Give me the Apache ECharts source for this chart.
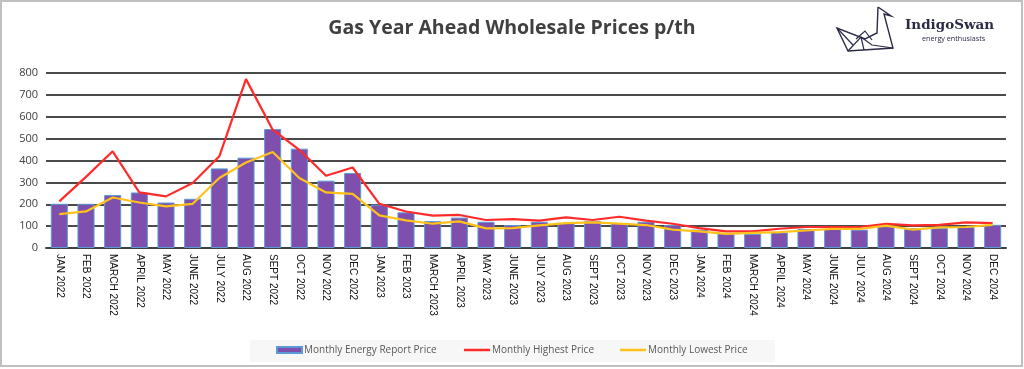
<!DOCTYPE html>
<html><head><meta charset="utf-8">
<script src="https://cdn.jsdelivr.net/npm/echarts@6/dist/echarts.min.js"></script>
<style>html,body{margin:0;padding:0;background:#fff}#c{width:1024px;height:369px}</style>
</head><body><div id="c"></div>
<script>
const categories = ["JAN 2022","FEB 2022","MARCH 2022","APRIL 2022","MAY 2022","JUNE 2022","JULY 2022","AUG 2022","SEPT 2022","OCT 2022","NOV 2022","DEC 2022",
"JAN 2023","FEB 2023","MARCH 2023","APRIL 2023","MAY 2023","JUNE 2023","JULY 2023","AUG 2023","SEPT 2023","OCT 2023","NOV 2023","DEC 2023",
"JAN 2024","FEB 2024","MARCH 2024","APRIL 2024","MAY 2024","JUNE 2024","JULY 2024","AUG 2024","SEPT 2024","OCT 2024","NOV 2024","DEC 2024"];
const reportPrice = [202,202,242,254,208,225,364,413,544,454,308,343,
198,163,123,139,120,105,120,114,123,114,120,105,
84,69,65,71,87,87,84,99,91,91,96,106];
const highestPrice = [213,325,442,254,236,297,419,772,541,449,330,368,
202,167,148,151,128,132,125,140,128,143,125,111,
91,76,76,88,96,96,96,110,103,106,117,114];
const lowestPrice = [155,167,231,208,190,202,320,391,439,320,254,247,
149,126,111,122,90,91,103,114,117,111,105,84,
76,65,69,73,80,87,87,102,84,94,96,106];
const yTicks = [0,100,200,300,400,500,600,700,800];

const chart = echarts.init(document.getElementById('c'), null, {renderer:'canvas'});
const swan = '#2b2b48';
const legendText = {fontFamily:'Open Sans', fontSize:10, color:'#595959', padding:[0,0,0,-3]};
chart.setOption({
  animation:false,
  backgroundColor:'#fff',
  title:{text:'Gas Year Ahead Wholesale Prices p/th', left:507, textAlign:'center', top:13,
    textStyle:{fontFamily:'Open Sans', fontWeight:'bold', fontSize:19.5, color:'#404040'}},
  grid:{left:46, right:18, top:73, bottom:121},
  legend:[
    {left:276, top:345, padding:0, itemWidth:25, itemHeight:6, textStyle:legendText,
      data:[{name:'Monthly Energy Report Price', icon:'rect'}]},
    {left:464, top:345, padding:0, itemWidth:26, itemHeight:2.5, itemGap:26, icon:'rect', textStyle:legendText,
      data:['Monthly Highest Price','Monthly Lowest Price']}
  ],
  xAxis:{type:'category', data:categories,
    axisLine:{lineStyle:{color:'#404040', width:2}}, axisTick:{show:false},
    axisLabel:{rotate:-90, interval:0, fontFamily:'Liberation Sans', fontSize:10, color:'#111', margin:6}},
  yAxis:{type:'value', min:0, max:800, interval:100,
    axisLine:{show:false}, axisTick:{show:false},
    axisLabel:{fontFamily:'Open Sans', fontSize:11, color:'#404040', margin:8,
      formatter:v=>yTicks.includes(v)?String(v):''},
    splitLine:{lineStyle:{color:'#4a4a4a', width:2}}},
  series:[
    {name:'Monthly Energy Report Price', type:'bar', data:reportPrice, barCategoryGap:'36%',
      itemStyle:{color:'#7f4fad', borderColor:'#5b9bd5', borderWidth:1}},
    {name:'Monthly Highest Price', type:'line', data:highestPrice, symbol:'none',
      lineStyle:{color:'#ff2a2a', width:2.2}, itemStyle:{color:'#ff2a2a'}},
    {name:'Monthly Lowest Price', type:'line', data:lowestPrice, symbol:'none',
      lineStyle:{color:'#ffc21a', width:2.2}, itemStyle:{color:'#ffc21a'}}
  ],
  graphic:[
    {type:'rect', z:-10, shape:{x:250,y:340,width:525,height:22}, style:{fill:'#f7f7f7'}, silent:true},
    {type:'rect', shape:{x:1,y:1,width:1021,height:365}, style:{fill:'none', stroke:'#c0c0c0', lineWidth:2}, silent:true},
    {type:'polyline', shape:{points:[[878,7],[891,16],[884,14],[893,48],[848,51],[837,28],[865,39],[877,33],[878,7]]}, style:{fill:'none', stroke:swan, lineWidth:1.4}},
    {type:'polyline', shape:{points:[[848,51],[861,37],[872,45],[893,48]]}, style:{fill:'none', stroke:swan, lineWidth:1.2}},
    {type:'polyline', shape:{points:[[837,28],[853,45]]}, style:{fill:'none', stroke:swan, lineWidth:1.2}},
    {type:'polyline', shape:{points:[[856,39],[865,31],[872,40]]}, style:{fill:'none', stroke:swan, lineWidth:1.2}},
    {type:'polyline', shape:{points:[[861,37],[864,50]]}, style:{fill:'none', stroke:swan, lineWidth:1.2}},
    {type:'text', left:905, top:18, style:{text:'IndigoSwan', fontFamily:'DejaVu Serif', fontWeight:'bold', fontSize:13.5, fill:'#2b2b48'}},
    {type:'text', left:922, top:35, style:{text:'energy enthusiasts', fontFamily:'Open Sans', fontSize:7.2, fill:'#2b2b48'}}
  ]
});
</script></body></html>
